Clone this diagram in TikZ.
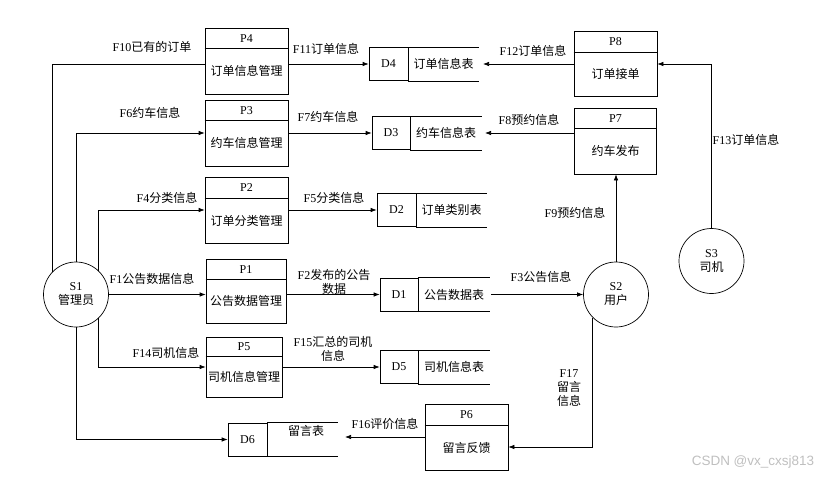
\documentclass[tikz,border=0pt]{standalone}
\usepackage{fontspec}
\setmainfont{Liberation Serif}
\newfontfamily\cjk{Noto Sans CJK SC}
\newfontfamily\wmfont{Liberation Sans}
\usetikzlibrary{arrows.meta,calc}

\begin{document}
\begin{tikzpicture}[x=1pt,y=-1pt,>={Latex[length=6pt,width=4.5pt]},line width=.7pt,
  font=\fontsize{12}{14}\selectfont,
  proc/.style={draw,minimum width=83pt,minimum height=66pt,inner sep=0pt},
  idcell/.style={draw,minimum width=39pt,minimum height=33pt,inner sep=0pt},
  ent/.style={draw,circle,minimum size=65pt,inner sep=0pt,align=center},
  lbl/.style={inner sep=1pt,align=center}]
\useasboundingbox (0,0) rectangle (831,477);

% external entities
\node[ent] (s1) at (76,294.5) {S1\\\cjk 管理员};
\node[ent] (s2) at (616,294.5) {S2\\\cjk 用户};
\node[ent] (s3) at (711.5,261) {S3\\\cjk 司机};

% processes
\node[proc] (p4) at (246.5,61) {};
\draw ($(p4.north west)+(0,21)$) -- ($(p4.north east)+(0,21)$);
\node (p4h) at ($(p4.north)+(0,10.5)$) {P4};
\node (p4b) at ($(p4.north)+(0,43.5)$) {\cjk 订单信息管理};

\node[proc] (p3) at (246.5,133) {};
\draw ($(p3.north west)+(0,21)$) -- ($(p3.north east)+(0,21)$);
\node (p3h) at ($(p3.north)+(0,10.5)$) {P3};
\node (p3b) at ($(p3.north)+(0,43.5)$) {\cjk 约车信息管理};

\node[proc] (p2) at (246.5,210) {};
\draw ($(p2.north west)+(0,22)$) -- ($(p2.north east)+(0,22)$);
\node (p2h) at ($(p2.north)+(0,11)$) {P2};
\node (p2b) at ($(p2.north)+(0,44)$) {\cjk 订单分类管理};

\node[proc,minimum width=80pt,minimum height=64pt] (p1) at (246,291) {};
\draw ($(p1.north west)+(0,21)$) -- ($(p1.north east)+(0,21)$);
\node (p1h) at ($(p1.north)+(0,10.5)$) {P1};
\node (p1b) at ($(p1.north)+(0,42.5)$) {\cjk 公告数据管理};

\node[proc,minimum width=76pt,minimum height=60pt] (p5) at (244,367) {};
\draw ($(p5.north west)+(0,20)$) -- ($(p5.north east)+(0,20)$);
\node (p5h) at ($(p5.north)+(0,10)$) {P5};
\node (p5b) at ($(p5.north)+(0,40)$) {\cjk 司机信息管理};

\node[proc] (p6) at (466.5,437) {};
\draw ($(p6.north west)+(0,22)$) -- ($(p6.north east)+(0,22)$);
\node (p6h) at ($(p6.north)+(0,11)$) {P6};
\node (p6b) at ($(p6.north)+(0,44)$) {\cjk 留言反馈};

\node[proc,minimum height=65pt] (p8) at (615.5,64) {};
\draw ($(p8.north west)+(0,21)$) -- ($(p8.north east)+(0,21)$);
\node (p8h) at ($(p8.north)+(0,10.5)$) {P8};
\node (p8b) at ($(p8.north)+(0,43)$) {\cjk 订单接单};

\node[proc,minimum width=82pt] (p7) at (615.5,141) {};
\draw ($(p7.north west)+(0,21)$) -- ($(p7.north east)+(0,21)$);
\node (p7h) at ($(p7.north)+(0,10.5)$) {P7};
\node (p7b) at ($(p7.north)+(0,43.5)$) {\cjk 约车发布};

% data stores
\node[idcell] (d4) at (388.5,64) {D4};
\draw (d4.north east) -- ++(71,0) (d4.south east) -- ++(71,0);
\node (d4n) at (443.5,64) {\cjk 订单信息表};
\coordinate (d4r) at (483,64);

\node[idcell,minimum width=38pt] (d3) at (391,133) {D3};
\draw (d3.north east) -- ++(72,0) (d3.south east) -- ++(72,0);
\node (d3n) at (446,133) {\cjk 约车信息表};
\coordinate (d3r) at (485,133);

\node[idcell] (d2) at (396.5,210) {D2};
\draw (d2.north east) -- ++(71,0) (d2.south east) -- ++(71,0);
\node (d2n) at (451.5,210) {\cjk 订单类别表};

\node[idcell,minimum width=38pt] (d1) at (399,294.5) {D1};
\draw (d1.north east) -- ++(72,0) (d1.south east) -- ++(72,0);
\node (d1n) at (454,294.5) {\cjk 公告数据表};
\coordinate (d1r) at (491,294.5);

\node[idcell,minimum width=38pt] (d5) at (399,367) {D5};
\draw (d5.north east) -- ++(72,0) (d5.south east) -- ++(72,0);
\node (d5n) at (454,367) {\cjk 司机信息表};

\node[idcell] (d6) at (247.5,439.5) {D6};
\draw (d6.north east) -- ++(71,0) (d6.south east) -- ++(71,0);
\node (d6n) at (306,431) {\cjk 留言表};
\coordinate (d6r) at (345,437);

% flows
\draw (s1.136) |- ([yshift=-3pt]p4.west);
\draw[->] (s1.north) |- (p3.west);
\draw[->] (s1.46) |- (p2.west);
\draw[->] (s1.east) -- (s1.east -| p1.west);
\draw[->] (s1.-46) |- (p5.west);
\draw[->] (s1.south) |- (d6.west);
\draw[->] ([yshift=-3pt]p4.east) -- (d4.west);
\draw[->] (p3.east) -- (d3.west);
\draw[->] (p2.east) -- (d2.west);
\draw[->] (d1.west -| p1.east) -- (d1.west);
\draw[->] (p5.east) -- (d5.west);
\draw[->] (d1r) -- (s2.west);
\draw[->] (p8.west) -- (d4r);
\draw[->] ([yshift=8pt]p7.west) -- (d3r);
\draw[->] (s3.north) |- (p8.east);
\draw[->] (s2.north) -- (s2.north |- p7.south);
\draw[->] (s2.-135) |- ([yshift=-10pt]p6.east);
\draw[->] (p6.west) -- (d6r);

% flow labels
\node[lbl] (f10) at (152,47) {F10\cjk 已有的订单};
\node[lbl] (f6) at (150,113) {F6\cjk 约车信息};
\node[lbl] (f4) at (167,198) {F4\cjk 分类信息};
\node[lbl] (f1) at (152,279) {F1\cjk 公告数据信息};
\node[lbl] (f14) at (166,353) {F14\cjk 司机信息};
\node[lbl] (f11) at (326,49) {F11\cjk 订单信息};
\node[lbl] (f7) at (328,117) {F7\cjk 约车信息};
\node[lbl] (f5) at (334,198) {F5\cjk 分类信息};
\node[lbl] (f2) at (334,282) {F2\cjk 发布的公告\\\cjk 数据};
\node[lbl] (f15) at (333,349) {F15\cjk 汇总的司机\\\cjk 信息};
\node[lbl] (f3) at (541,277) {F3\cjk 公告信息};
\node[lbl] (f12) at (533,51) {F12\cjk 订单信息};
\node[lbl] (f8) at (529,120) {F8\cjk 预约信息};
\node[lbl] (f13) at (746,140) {F13\cjk 订单信息};
\node[lbl] (f9) at (575,213) {F9\cjk 预约信息};
\node[lbl] (f17) at (569,388) {F17\\\cjk 留言\\\cjk 信息};
\node[lbl] (f16) at (385,424) {F16\cjk 评价信息};

\node[font=\wmfont\fontsize{13.5}{15}\selectfont,text=black!25] (wm) at (753,462) {CSDN @vx\_cxsj813};
\end{tikzpicture}
\end{document}
